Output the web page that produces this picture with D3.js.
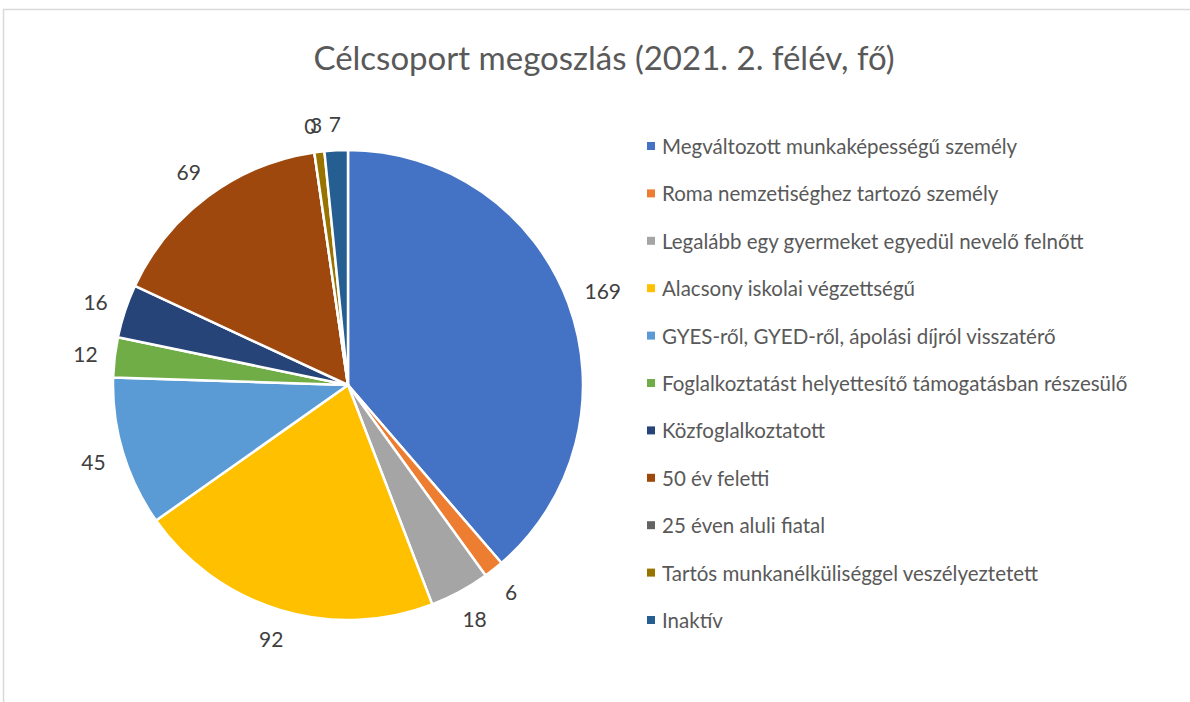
<!DOCTYPE html>
<html lang="hu">
<head>
    <meta charset="UTF-8">
    <script src="https://d3js.org/d3.v7.min.js"></script>
    <title>Célcsoport megoszlás</title>
    <style>
        body { margin: 0; background: #fff; }
        text { font-family: Lato, 'Open Sans', sans-serif; }
        text.title { fill: #595959; font-size: 33px; text-anchor: middle; }
        text.label { fill: #404040; font-size: 21px; text-anchor: middle; dominant-baseline: central; }
        text.legend { fill: #595959; font-size: 20.5px; dominant-baseline: central; }
    </style>
</head>
<body>
<svg height="702" width="1190"></svg>
<script>
    const width = 1190, height = 702;

    const categories = [
        "Megváltozott munkaképességű személy",
        "Roma nemzetiséghez tartozó személy",
        "Legalább egy gyermeket egyedül nevelő felnőtt",
        "Alacsony iskolai végzettségű",
        "GYES-ről, GYED-ről, ápolási díjról visszatérő",
        "Foglalkoztatást helyettesítő támogatásban részesülő",
        "Közfoglalkoztatott",
        "50 év feletti",
        "25 éven aluli fiatal",
        "Tartós munkanélküliséggel veszélyeztetett",
        "Inaktív"
    ];
    const values = [169, 6, 18, 92, 45, 12, 16, 69, 0, 3, 7];
    const colors = ["#4472C4", "#ED7D31", "#A5A5A5", "#FFC000", "#5B9BD5", "#70AD47",
                    "#264478", "#9E480E", "#636363", "#997300", "#255E91"];

    const svg = d3.select("svg");
    const cx = 348, cy = 385, r = 235;

    // chart frame (only top and left edges are visible in the crop)
    svg.append("rect")
        .attr("x", 3.5).attr("y", 9.5)
        .attr("width", width + 20).attr("height", height + 20)
        .attr("fill", "none").attr("stroke", "#d9d9d9").attr("stroke-width", 1.5);

    svg.append("text").attr("class", "title")
        .attr("x", 604).attr("y", 70)
        .text("Célcsoport megoszlás (2021. 2. félév, fő)");

    const color = d3.scaleOrdinal().domain(categories).range(colors);
    const pie = d3.pie().sort(null).value(d => d.value);
    const arc = d3.arc().innerRadius(0).outerRadius(r);
    const data = pie(categories.map((c, i) => ({name: c, value: values[i]})));

    const g = svg.append("g").attr("transform", `translate(${cx},${cy})`);
    g.selectAll("path").data(data).enter().append("path")
        .attr("d", arc)
        .attr("fill", d => color(d.data.name))
        .attr("stroke", "#fff").attr("stroke-width", 2.5)
        .attr("stroke-linejoin", "round");

    // data labels, outside end (0 and 3 sit on top of each other, as in the original)
    g.selectAll("text.label").data(data).enter().append("text")
        .attr("class", "label")
        .text(d => d.data.value)
        .each(function(d) {
            const w = this.getComputedTextLength(), h = 21;
            const a = (d.startAngle + d.endAngle) / 2;
            const s = Math.sin(a), c = Math.cos(a);
            const dist = r + 16 + Math.abs(s) * w / 2 + Math.abs(c) * h / 2;
            d3.select(this).attr("x", dist * s).attr("y", -dist * c);
        });

    // legend
    const ly = d3.scalePoint().domain(categories).range([146, 620]);
    const lg = svg.append("g").selectAll("g").data(categories).enter().append("g")
        .attr("transform", d => `translate(647,${ly(d)})`);
    lg.append("rect").attr("x", 0).attr("y", -4).attr("width", 8).attr("height", 8)
        .attr("fill", d => color(d));
    lg.append("text").attr("class", "legend").attr("x", 15).attr("y", 0).text(d => d);
</script>
</body>
</html>
